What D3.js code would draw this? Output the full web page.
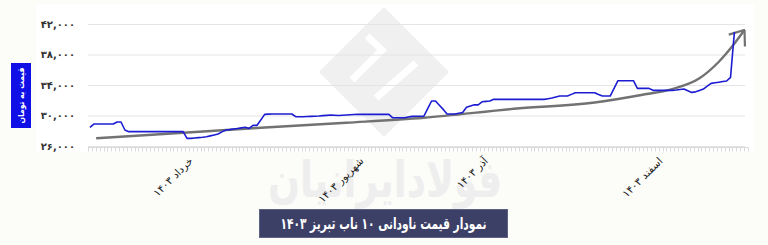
<!DOCTYPE html>
<html>
<head>
<meta charset="utf-8">
<script src="https://cdn.jsdelivr.net/npm/d3@7"></script>
<style>
  html, body { margin: 0; padding: 0; background: #fcfcf9; }
  .linechart { width: 768px; height: 245px; }
</style>
</head>
<body>
<div class="linechart"></div>
<script>
// price per day (toman), one value per category on the x axis
const prices = [
  28450, 28880, 28880, 28880, 28880, 28880, 28880, 29150, 29150, 28100,
  27880, 27880, 27880, 27880, 27880, 27880, 27880, 27880, 27880, 27880,
  27880, 27880, 27880, 27880, 27880, 27000, 27000, 27050, 27100, 27150,
  27220, 27330, 27450, 27570, 27850, 28100, 28150, 28230, 28300, 28380,
  28450, 28300, 28700, 28700, 29400, 30150, 30180, 30200, 30200, 30200,
  30200, 30200, 30200, 29840, 29840, 29840, 29860, 29880, 29900, 29930,
  29980, 30020, 30060, 30030, 30000, 30030, 30060, 30100, 30130, 30150,
  30150, 30150, 30150, 30150, 30150, 30150, 30150, 30150, 29700, 29700,
  29700, 29700, 29800, 29880, 29900, 29900, 29900, 30900, 31900, 31900,
  31350, 30800, 30200, 30200, 30200, 30300, 30400, 31070, 31250, 31400,
  31400, 31800, 31850, 31900, 32120, 32120, 32120, 32120, 32120, 32120,
  32120, 32120, 32120, 32120, 32120, 32120, 32120, 32120, 32200, 32290,
  32420, 32550, 32550, 32550, 32770, 32980, 32980, 32980, 32980, 32980,
  32980, 32750, 32550, 32550, 32550, 33550, 34560, 34560, 34560, 34560,
  34560, 33560, 33560, 33560, 33560, 33300, 33300, 33300, 33300, 33300,
  33300, 33350, 33420, 33470, 33250, 33030, 33100, 33280, 33470, 33850,
  34210, 34290, 34370, 34450, 34520, 35000, 40970
];

// trend line (category position, price)
const trendPos = [1.6, 20, 44, 66, 86, 110, 130, 142, 150, 157, 162, 165.7, 168.6];
const trendVal = [27010, 27600, 28400, 29050, 29710, 30920, 31700, 32690, 33470, 34880, 37050, 39240, 41210];

const categoryCount = 170;
const yTicks = [26000, 30000, 34000, 38000, 42000];
const monthLabels = ['خرداد ۱۴۰۳', 'شهریور ۱۴۰۳', 'آذر ۱۴۰۳', 'اسفند ۱۴۰۳'];
const monthPos = [26, 70, 102, 147];

const yTitle = 'قیمت به تومان';
const chartTitle = 'نمودار قیمت ناودانی ۱۰ ناب تبریز ۱۴۰۳';
const watermark = 'فولادایرانیان';

(function() {
  const config = {
    container: '.linechart',
    width: 768,
    height: 245,
    left: 88,
    right: 748,
    top: 24,
    bottom: 146,
    font: '"DejaVu Sans", sans-serif'
  };

  const chart = {};

  function toFa(s) {
    return String(s).replace(/\d/g, d => '۰۱۲۳۴۵۶۷۸۹'[d]);
  }

  function render() {
    chart.$svg = d3.select(config.container)
      .append('svg')
      .attr('width', config.width)
      .attr('height', config.height)
      .attr('viewBox', `0 0 ${config.width} ${config.height}`);

    chart.$svg.append('defs')
      .append('marker')
      .attr('id', 'arrow')
      .attr('viewBox', '-14 -11 15 22')
      .attr('refX', 0)
      .attr('refY', 0)
      .attr('markerWidth', 15)
      .attr('markerHeight', 22)
      .attr('markerUnits', 'userSpaceOnUse')
      .attr('orient', 'auto')
      .append('path')
      .attr('d', 'M-13,-10L0,0L-13,10')
      .attr('fill', 'none')
      .attr('stroke', '#727272')
      .attr('stroke-width', 2.2);

    // white panel behind the plot
    chart.$svg.append('rect')
      .attr('x', 36)
      .attr('y', 4)
      .attr('width', 718)
      .attr('height', 148)
      .attr('fill', '#ffffff');

    // watermark logo + name
    const $mark = chart.$svg.append('g');
    $mark.append('rect')
      .attr('x', -46)
      .attr('y', -46)
      .attr('width', 92)
      .attr('height', 92)
      .attr('fill', '#f0f0f0')
      .attr('transform', 'translate(384,72) rotate(45)');
    $mark.append('polyline')
      .attr('points', '352,80 382,50 367,36')
      .attr('fill', 'none')
      .attr('stroke', '#ffffff')
      .attr('stroke-width', 7);
    $mark.append('line')
      .attr('x1', 376).attr('y1', 98)
      .attr('x2', 416).attr('y2', 63)
      .attr('stroke', '#ffffff')
      .attr('stroke-width', 7);
    $mark.append('text')
      .attr('x', 385)
      .attr('y', 197)
      .attr('text-anchor', 'middle')
      .attr('font-family', config.font)
      .attr('font-weight', 'bold')
      .attr('font-size', 50)
      .attr('textLength', 234)
      .attr('lengthAdjust', 'spacingAndGlyphs')
      .attr('fill', '#eeeeee')
      .text(watermark);

    chart.x = d3.scaleLinear()
      .domain([-0.5, categoryCount - 0.5])
      .range([config.left, config.right]);

    chart.y = d3.scaleLinear()
      .domain([26000, 42000])
      .range([config.bottom, config.top]);

    // grid
    chart.$svg.append('g')
      .selectAll('line')
      .data(yTicks)
      .enter()
      .append('line')
      .attr('x1', config.left)
      .attr('x2', config.right - 3)
      .attr('y1', d => chart.y(d) + 0.5)
      .attr('y2', d => chart.y(d) + 0.5)
      .attr('stroke', '#e4e4e4')
      .attr('stroke-width', 1);

    chart.$svg.append('g')
      .selectAll('text')
      .data(yTicks)
      .enter()
      .append('text')
      .attr('x', 75)
      .attr('y', d => chart.y(d))
      .attr('dy', '0.35em')
      .attr('text-anchor', 'end')
      .attr('font-family', config.font)
      .attr('font-weight', 'bold')
      .attr('font-size', 10)
      .attr('fill', '#333')
      .text(d => toFa(d3.format(',')(d)));

    // category axis band
    const $axis = chart.$svg.append('g')
      .attr('stroke', '#d9d9d9')
      .attr('stroke-width', 1);
    $axis.append('line')
      .attr('x1', config.left)
      .attr('x2', config.right)
      .attr('y1', 147.5)
      .attr('y2', 147.5);
    $axis.selectAll('.tick')
      .data(d3.range(categoryCount + 1))
      .enter()
      .append('line')
      .attr('class', 'tick')
      .attr('x1', d => Math.round(chart.x(d - 0.5)) + 0.5)
      .attr('x2', d => Math.round(chart.x(d - 0.5)) + 0.5)
      .attr('y1', 147.5)
      .attr('y2', 151.5);

    chart.$svg.append('g')
      .selectAll('text')
      .data(monthPos)
      .enter()
      .append('text')
      .attr('transform', d => `translate(${chart.x(d)},159) rotate(-45)`)
      .attr('text-anchor', 'end')
      .attr('dy', '0.35em')
      .attr('font-family', config.font)
      .attr('font-size', 10.5)
      .attr('fill', '#222')
      .text((d, i) => monthLabels[i]);

    // trend
    const trendLine = d3.line()
      .x(d => chart.x(d[0]))
      .y(d => chart.y(d[1]))
      .curve(d3.curveMonotoneX);

    chart.$svg.append('path')
      .datum(trendPos.map((p, i) => [p, trendVal[i]]))
      .attr('d', trendLine)
      .attr('fill', 'none')
      .attr('stroke', '#727272')
      .attr('stroke-width', 2.4)
      .attr('marker-end', 'url(#arrow)');

    // price
    const priceLine = d3.line()
      .x((d, i) => chart.x(i))
      .y(d => chart.y(d));

    chart.$svg.append('path')
      .datum(prices)
      .attr('d', priceLine)
      .attr('fill', 'none')
      .attr('stroke', '#1c1cd2')
      .attr('stroke-width', 1.6)
      .attr('stroke-linejoin', 'round');

    // y title box
    chart.$svg.append('rect')
      .attr('x', 11)
      .attr('y', 63)
      .attr('width', 20)
      .attr('height', 65)
      .attr('fill', '#1010e6');
    chart.$svg.append('text')
      .attr('transform', 'translate(21,95.5) rotate(-90)')
      .attr('text-anchor', 'middle')
      .attr('dy', '0.35em')
      .attr('font-family', config.font)
      .attr('font-weight', 'bold')
      .attr('font-size', 8.5)
      .attr('textLength', 56)
      .attr('lengthAdjust', 'spacingAndGlyphs')
      .attr('fill', '#fff')
      .text(yTitle);

    // title box
    chart.$svg.append('rect')
      .attr('x', 259.5)
      .attr('y', 209.5)
      .attr('width', 248)
      .attr('height', 28)
      .attr('fill', '#3c4066')
      .attr('stroke', '#5d6184')
      .attr('stroke-width', 1);
    chart.$svg.append('text')
      .attr('x', 383.5)
      .attr('y', 223.5)
      .attr('dy', '0.35em')
      .attr('text-anchor', 'middle')
      .attr('font-family', config.font)
      .attr('font-weight', 'bold')
      .attr('font-size', 15.5)
      .attr('textLength', 206)
      .attr('lengthAdjust', 'spacingAndGlyphs')
      .attr('fill', '#fff')
      .text(chartTitle);
  }

  render();
})();
</script>
</body>
</html>
